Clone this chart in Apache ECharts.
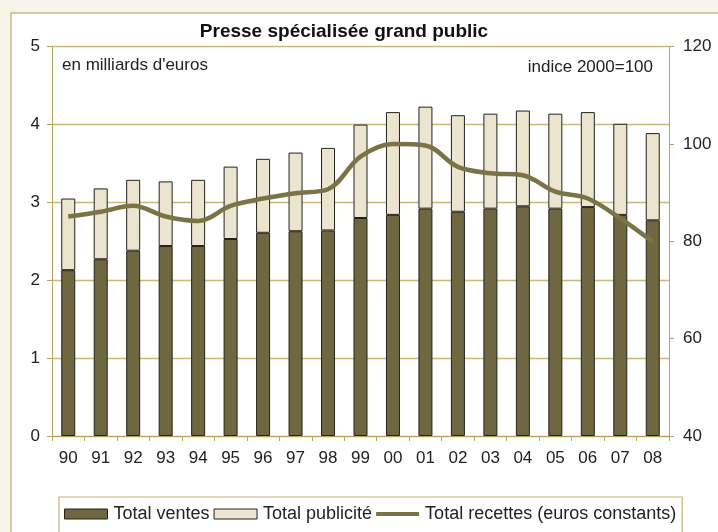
<!DOCTYPE html>
<html>
<head>
<meta charset="utf-8">
<script src="https://cdn.jsdelivr.net/npm/echarts@6/dist/echarts.min.js"></script>
<style>
html,body{margin:0;padding:0;background:#f6f3eb;}
#c{width:718px;height:532px;}
</style>
</head>
<body>
<div id="c"></div>
<script>
const categories = ['90','91','92','93','94','95','96','97','98','99','00','01','02','03','04','05','06','07','08'];
const ventes = [2.13,2.27,2.38,2.44,2.44,2.53,2.61,2.63,2.64,2.80,2.84,2.92,2.88,2.92,2.95,2.92,2.94,2.84,2.77];
const publicite = [0.92,0.91,0.91,0.83,0.85,0.93,0.95,1.01,1.06,1.20,1.32,1.31,1.24,1.22,1.23,1.22,1.22,1.17,1.12];
const recettes = [85.1,86.1,87.3,85.1,84.2,87.3,88.8,89.9,90.7,97.4,100,99.7,95.3,94.0,93.6,90.2,88.8,84.7,79.9];
const leftTicks = [0,5,1];
const rightTicks = [40,120,20];

const FONT = 'Liberation Sans, Arial, sans-serif';
const gridCol = '#c8b97c';
const axisCol = '#b5a35e';
const lineCol = '#7a7345';
const chart = echarts.init(document.getElementById('c'));
chart.setOption({
  backgroundColor: '#f6f3eb',
  animation: false,
  textStyle: {fontFamily: FONT, color: '#222'},
  graphic: [
    {type:'rect', z:-10, shape:{x:11,y:13,width:730,height:540}, style:{fill:'#ffffff', stroke:'#c9b98a', lineWidth:1.5}},
    {type:'text', left:62, top:57, style:{text:"en milliards d'euros", font:'17px ' + FONT, fill:'#222'}},
    {type:'text', right:65, top:59, style:{text:'indice 2000=100', font:'17px ' + FONT, fill:'#222'}}
  ],
  title: {
    text: 'Presse spécialisée grand public',
    left: 339, textAlign: 'center', top: 17,
    textStyle: {fontFamily: FONT, fontSize: 19, fontWeight: 'bold', color: '#111'}
  },
  legend: {
    left: 59, top: 497,
    padding: [8, 6, 12, 5],
    borderColor: '#c4b27a', borderWidth: 1.2,
    itemWidth: 43, itemHeight: 10, itemGap: 4,
    icon: 'rect',
    itemStyle: {borderColor: '#23231a', borderWidth: 1},
    textStyle: {fontFamily: FONT, fontSize: 18, color: '#222', padding:[0,0,0,1]},
    data: [
      {name: 'Total ventes'},
      {name: 'Total publicité'},
      {name: 'Total recettes (euros constants)', icon: 'path://M0,0 L43,0 L43,4 L0,4 Z', itemStyle: {color: lineCol, borderWidth: 0}}
    ]
  },
  grid: {left: 52, right: 49, top: 46.7, bottom: 96, containLabel: false},
  xAxis: {
    type: 'category', data: categories, boundaryGap: true,
    axisLine: {lineStyle: {color: axisCol, width: 1}},
    axisTick: {show: true, alignWithLabel: false, length: 5, lineStyle: {color: axisCol}},
    axisLabel: {fontFamily: FONT, fontSize: 17, color: '#222', margin: 14}
  },
  yAxis: [
    {
      type: 'value', min: leftTicks[0], max: leftTicks[1], interval: leftTicks[2],
      axisLine: {show: true, lineStyle: {color: axisCol}},
      axisTick: {show: true, length: 5, lineStyle: {color: axisCol}},
      axisLabel: {fontFamily: FONT, fontSize: 17, color: '#222', margin: 12},
      splitLine: {show: true, lineStyle: {color: gridCol, width: 1.3}}
    },
    {
      type: 'value', position: 'right', min: rightTicks[0], max: rightTicks[1], interval: rightTicks[2],
      axisLine: {show: true, lineStyle: {color: axisCol}},
      axisTick: {show: true, length: 5, lineStyle: {color: axisCol}},
      axisLabel: {fontFamily: FONT, fontSize: 17, color: '#222', margin: 14},
      splitLine: {show: false}
    }
  ],
  series: [
    {
      name: 'Total ventes', type: 'bar', stack: 't', data: ventes, barWidth: 14,
      itemStyle: {color: '#6f6742', borderColor: '#23231a', borderWidth: 1}
    },
    {
      name: 'Total publicité', type: 'bar', stack: 't', data: publicite, barWidth: 14,
      itemStyle: {color: '#ebe4cf', borderColor: '#23231a', borderWidth: 1}
    },
    {
      name: 'Total recettes (euros constants)', type: 'line', yAxisIndex: 1, data: recettes,
      smooth: 0.35, symbol: 'none', z: 5,
      lineStyle: {color: lineCol, width: 4.5},
      itemStyle: {color: lineCol}
    }
  ]
});
</script>
</body>
</html>
